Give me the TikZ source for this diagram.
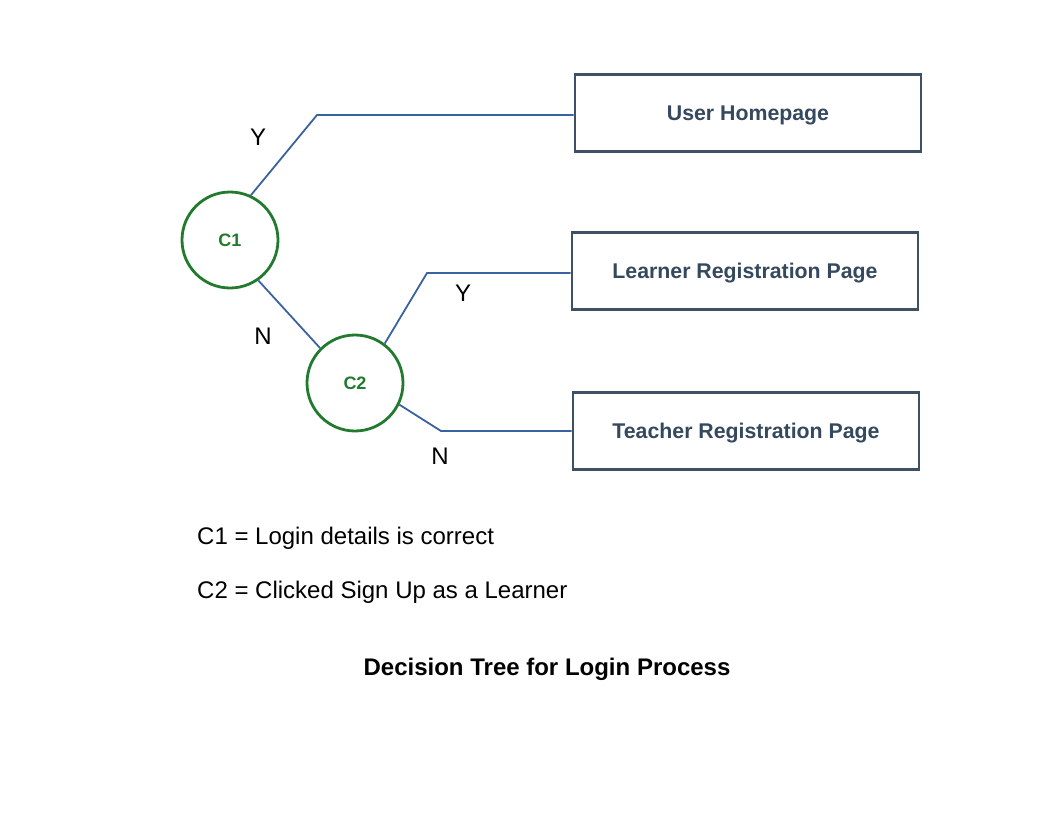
\documentclass[tikz,border=0pt]{standalone}
\usepackage{fontspec}
\setmainfont{Liberation Sans}
\usetikzlibrary{positioning}
\definecolor{condgreen}{RGB}{34,122,46}
\definecolor{boxslate}{RGB}{62,80,100}
\definecolor{boxtext}{RGB}{52,72,94}
\definecolor{edgeblue}{RGB}{58,98,160}

\begin{document}
\begin{tikzpicture}[x=1pt,y=-1pt,
                cond/.style={circle, draw=condgreen, line width=2.8pt, minimum size=96pt, inner sep=0pt,
                             text=condgreen, font=\fontsize{18}{20}\selectfont\bfseries},
                outcome/.style={rectangle, draw=boxslate, line width=2.8pt, minimum width=346pt, minimum height=77pt,
                                text depth=0pt, text=boxtext, font=\fontsize{21.3}{25}\selectfont\bfseries},
                edge/.style={draw=edgeblue, line width=1.8pt},
                answer/.style={inner sep=0pt, font=\fontsize{24}{28}\selectfont},
                legend/.style={anchor=west, inner sep=0pt, font=\fontsize{24}{28}\selectfont}]
            \useasboundingbox (0,0) rectangle (1056,816);

            \node[cond] (c1) at (230,240) {C1};
            \node[cond] (c2) at (355,383) {C2};

            \node[outcome] (home) at (748,113) {User Homepage};
            \node[outcome] (learner) at (745,271) {Learner Registration Page};
            \node[outcome] (teacher) at (746,431) {Teacher Registration Page};

            \coordinate (k1) at (317,115);
            \coordinate (k2) at (427,273);
            \coordinate (k3) at (441,431);

            \draw[edge] (c1.65) -- (k1) -- (k1 -| home.west);
            \draw[edge] (c1.-55) -- (c2.135);
            \draw[edge] (c2.53) -- (k2) -- (k2 -| learner.west);
            \draw[edge] (c2.-26) -- (k3) -- (k3 -| teacher.west);

            \node[answer] (y1) at (258,137) {Y};
            \node[answer] (n1) at (263,336) {N};
            \node[answer] (y2) at (463,293) {Y};
            \node[answer] (n2) at (440,456) {N};

            \node[legend] (def1) at (197,538) {C1 = Login details is correct};
            \node[legend, below=54pt of def1.west, anchor=west] (def2) {C2 = Clicked Sign Up as a Learner};

            \node[font=\fontsize{24}{28}\selectfont\bfseries] (title) at (547,669) {Decision Tree for Login Process};
        \end{tikzpicture}
\end{document}
